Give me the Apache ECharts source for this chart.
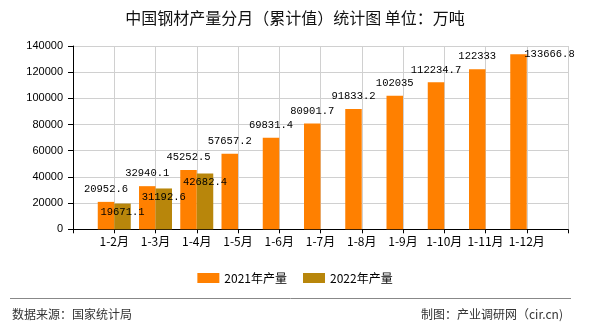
<!DOCTYPE html>
<html>
<head>
<meta charset="utf-8">
<script src="https://cdn.jsdelivr.net/npm/echarts@6/dist/echarts.min.js"></script>
<style>html,body{margin:0;padding:0;background:#fff}#c{width:590px;height:330px}</style>
</head>
<body>
<div id="c"></div>
<script>
var categories = ['1-2月','1-3月','1-4月','1-5月','1-6月','1-7月','1-8月','1-9月','1-10月','1-11月','1-12月'];
var prod2021 = [20952.6, 32940.1, 45252.5, 57657.2, 69831.4, 80901.7, 91833.2, 102035, 112234.7, 122333, 133666.8];
var prod2022 = [19671.1, 31192.6, 42682.4, null, null, null, null, null, null, null, null];
var seriesNames = ['2021年产量', '2022年产量'];
var yTicks = [0, 20000, 40000, 60000, 80000, 100000, 120000, 140000];

var xData = [''].concat(categories, ['']);
var d2021 = [null].concat(prod2021.map(function (v, i) {
  if (i === prod2021.length - 1) {
    return { value: v, label: { offset: [31, 12] } };
  }
  return v;
}), [null]);
var d2022 = [null].concat(prod2022, [null]);

var chart = echarts.init(document.getElementById('c'));
var labelFont = { fontFamily: 'Liberation Mono', fontSize: 10.5, color: '#000' };
chart.setOption({
  animation: false,
  backgroundColor: '#fff',
  title: {
    text: '中国钢材产量分月（累计值）统计图 单位：万吨',
    left: 'center',
    top: 5,
    textStyle: { fontFamily: 'Noto Sans CJK SC', fontSize: 16, fontWeight: 'normal', color: '#111' }
  },
  legend: {
    data: seriesNames,
    left: 'center',
    top: 267,
    itemWidth: 22,
    itemHeight: 10,
    itemGap: 16,
    icon: 'rect',
    textStyle: { fontFamily: 'Noto Sans CJK SC', fontSize: 12, color: '#000' }
  },
  grid: { left: 73, right: 22, top: 46, bottom: 100.7, containLabel: false },
  xAxis: {
    type: 'category',
    data: xData,
    boundaryGap: false,
    axisLine: { lineStyle: { color: '#000', width: 1 } },
    axisTick: { show: true, length: 4, interval: 0, lineStyle: { color: '#000' } },
    axisLabel: { interval: 0, margin: 6, fontFamily: 'Noto Sans CJK SC', fontSize: 12, color: '#000' },
    splitLine: { show: true, interval: 0, lineStyle: { color: '#d0d0d0', width: 1 } }
  },
  yAxis: {
    type: 'value',
    min: yTicks[0],
    max: yTicks[yTicks.length - 1],
    interval: yTicks[1] - yTicks[0],
    axisLine: { show: true, lineStyle: { color: '#000', width: 1 } },
    axisTick: { show: true, length: 5, lineStyle: { color: '#000' } },
    axisLabel: {
      margin: 10, fontFamily: 'Liberation Sans', fontSize: 11, color: '#000',
      formatter: function (v) { return String(v); }
    },
    splitLine: { show: true, lineStyle: { color: '#d0d0d0', width: 1 } }
  },
  series: [
    {
      name: seriesNames[0],
      type: 'bar',
      data: d2021,
      barWidth: 16.5,
      barGap: '0%',
      itemStyle: { color: '#ff8000' },
      label: Object.assign({ show: true, position: 'top', distance: 7 }, labelFont)
    },
    {
      name: seriesNames[1],
      type: 'bar',
      data: d2022,
      barWidth: 16.5,
      barGap: '0%',
      itemStyle: { color: '#b8860b' },
      label: Object.assign({ show: true, position: 'insideTop', distance: 3 }, labelFont)
    }
  ],
  graphic: [
    { type: 'line', shape: { x1: 10, y1: 298.5, x2: 571, y2: 298.5 }, style: { stroke: '#888', lineWidth: 1 } },
    { type: 'text', left: 12, top: 308, style: { text: '数据来源：国家统计局', fontFamily: 'Noto Sans CJK SC', fontSize: 12, fill: '#333' } },
    { type: 'text', right: 27, top: 308, style: { text: '制图：产业调研网（cir.cn)', fontFamily: 'Noto Sans CJK SC', fontSize: 12, fill: '#333' } }
  ]
});
</script>
</body>
</html>
